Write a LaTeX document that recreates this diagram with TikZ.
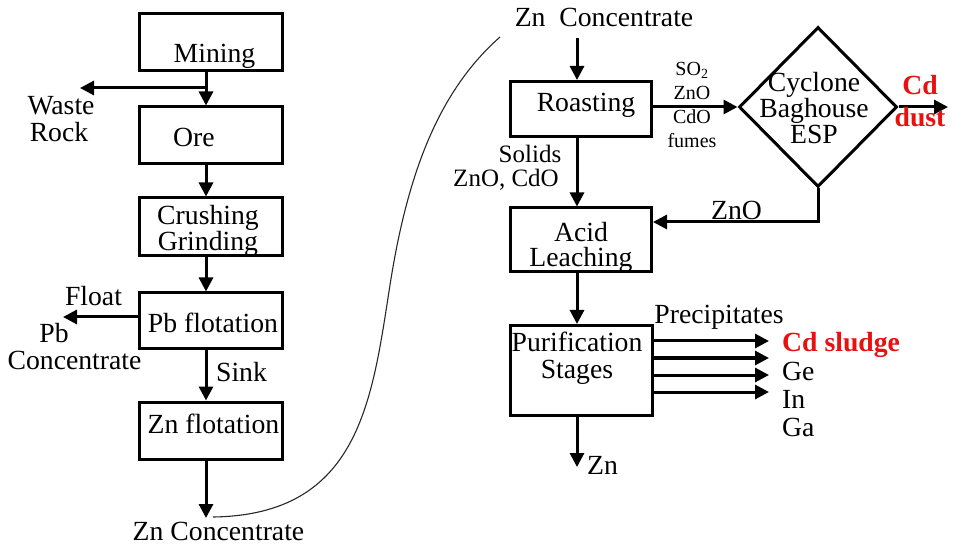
\documentclass[tikz,border=0pt]{standalone}
\usepackage{fontspec}
\setmainfont{Liberation Serif}
\usetikzlibrary{arrows.meta,shapes.geometric}
\definecolor{cdred}{RGB}{232,16,16}
\definecolor{curvegray}{RGB}{40,40,40}
\begin{document}
\begin{tikzpicture}[x=1pt,y=-1pt,
  box/.style={draw,line width=3pt,inner sep=0pt},
  arr/.style={line width=3pt,-{Triangle[length=14pt,width=14pt]}},
  lbl/.style={inner sep=0pt,anchor=base,align=center,font=\fontsize{27.7}{27}\selectfont},
  lblleft/.style={inner sep=0pt,anchor=base west,align=left,font=\fontsize{27.7}{28}\selectfont},
  small/.style={inner sep=0pt,anchor=base,align=center,font=\fontsize{20}{24.3}\selectfont},
  hot/.style={text=cdred,font=\fontsize{27.7}{31.7}\selectfont\bfseries}]
\fill[white] (0,0) rectangle (956,545);
\useasboundingbox (0,0) rectangle (956,545);

% ---------------- left column ----------------
\node[box,minimum width=143pt,minimum height=57pt] (mining) at (210.5,42.5) {};
\node[box,minimum width=143pt,minimum height=57pt] (ore) at (210.5,135.5) {};
\node[box,minimum width=143pt,minimum height=58pt] (crush) at (210.5,227) {};
\node[box,minimum width=143pt,minimum height=56pt] (pbf) at (210.5,321) {};
\node[box,minimum width=143pt,minimum height=57pt] (znf) at (210.5,430.5) {};

\node[lbl] (tmining) at (214.5,63) {Mining};
\node[lbl] (tore) at (194,146.5) {Ore};
\node[lbl,font=\fontsize{27.7}{25.7}\selectfont] (tcrush) at (208,250.7) {Crushing\\Grinding};
\node[lbl] (tpbf) at (213,333) {Pb flotation};
\node[lbl] (tznf) at (213.5,433) {Zn flotation};

\coordinate (lc) at (206,0);
\coordinate (wj) at (206,88);
\coordinate (wend) at (80,88);
\coordinate (floaty) at (0,317);
\coordinate (fend) at (63,317);
\coordinate (znc) at (206,518);

\draw[arr] (mining.south -| lc) -- (ore.north -| lc);
\draw[arr] (wj) -- (wend);
\draw[arr] (ore.south -| lc) -- (crush.north -| lc);
\draw[arr] (crush.south -| lc) -- (pbf.north -| lc);
\draw[arr] (pbf.west |- floaty) -- (fend);
\draw[arr] (pbf.south -| lc) -- (znf.north -| lc);
\draw[arr] (znf.south -| lc) -- (znc);

\node[lbl] (twaste) at (59,142) {Waste\hspace*{-4pt}\\Rock};
\node[lbl] (tfloat) at (93.5,306) {Float};
\node[lbl] (tpbc) at (74.5,370) {Pb\hspace*{41pt}\\Concentrate};
\node[lbl] (tsink) at (241.5,381.5) {Sink};
\node[lbl] (tzncb) at (218.5,540.5) {Zn Concentrate};

% connecting curve
\coordinate (cs) at (213,517);
\coordinate (cm) at (390,285);
\coordinate (ce) at (500,37);
\draw[curvegray,line width=1.1pt] (cs) .. controls (360,515) and (372,400) .. (cm)
  .. controls (408,170) and (440,90) .. (ce);

% ---------------- right column ----------------
\node[lbl] (tznct) at (604,26.5) {Zn\ \ Concentrate};
\node[box,minimum width=141pt,minimum height=55pt] (roast) at (581,109) {};
\node[box,minimum width=141pt,minimum height=64pt] (acid) at (581,240) {};
\node[box,minimum width=142pt,minimum height=90pt] (puri) at (581,370.5) {};
\node[diamond,draw,line width=3pt,inner sep=0pt,minimum width=158pt,minimum height=160pt] (cyc) at (818,107) {};

\node[lbl] (troast) at (586,111.5) {Roasting};
\node[lbl,font=\fontsize{27.7}{25}\selectfont] (tacid) at (581,266.7) {Acid\\Leaching};
\node[lbl,font=\fontsize{27.7}{26.6}\selectfont] (tpuri) at (577,378.3) {Purification\\Stages};
\node[lbl,font=\fontsize{27.7}{22.7}\selectfont] (tcyc) at (814,143.3) {Cyclone\\Baghouse\\ESP};

\coordinate (rc) at (577,0);
\coordinate (ztop) at (577,38);
\coordinate (ry) at (0,107);
\coordinate (zny) at (0,222);
\coordinate (cdend) at (948,107);
\coordinate (znend) at (577,467);

\draw[arr] (ztop) -- (roast.north -| rc);
\draw[arr] (roast.east |- ry) -- (cyc.west);
\draw[arr] (cyc.east) -- (cdend);
\draw[arr] (roast.south -| rc) -- (acid.north -| rc);
\draw[arr] (cyc.south) |- (acid.east |- zny);
\draw[arr] (acid.south -| rc) -- (puri.north -| rc);
\draw[arr] (puri.south -| rc) -- (znend);

\foreach \yy/\nm in {341/pa,358/pb,375/pc,392/pd}{
  \coordinate (\nm s) at (0,\yy);
  \coordinate (\nm e) at (769,\yy);
  \draw[arr] (puri.east |- \nm s) -- (\nm e);
}

\node[small] (tgas) at (692,148) {SO\textsubscript{2}\\ZnO\\CdO\\fumes};
\node[lbl,hot] (tcd) at (920,126.7) {Cd\\dust};
\node[lbl,font=\fontsize{25}{23.7}\selectfont] (tsol) at (530,163) {Solids};
\node[lbl,font=\fontsize{25}{23.7}\selectfont] (tsol2) at (506,186.5) {ZnO, CdO};
\node[lbl] (tzno) at (736.5,220) {ZnO};
\node[lbl] (tprec) at (719,323.5) {Precipitates};
\node[lblleft,hot] (tcds) at (782,351.5) {Cd sludge};
\node[lblleft] (tmet) at (782,436.7) {Ge\\In\\Ga};
\node[lblleft] (tzn) at (587,474) {Zn};
\end{tikzpicture}
\end{document}
